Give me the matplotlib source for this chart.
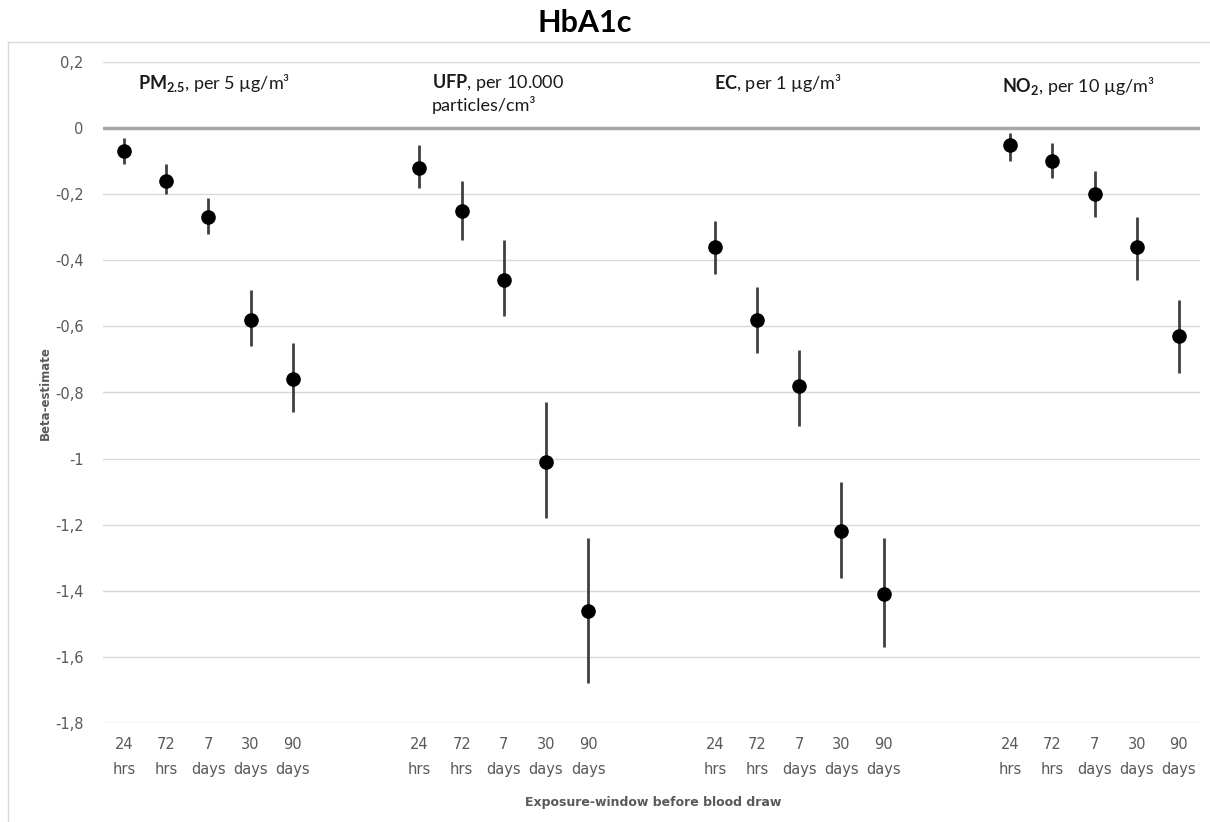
import matplotlib
matplotlib.use("Agg")
import matplotlib.pyplot as plt
from matplotlib.lines import Line2D
from matplotlib.ticker import FuncFormatter

# exposure windows, repeated for each pollutant
windows = ["24\nhrs", "72\nhrs", "7\ndays", "30\ndays", "90\ndays"]

pollutant_labels = [
    r"$\mathbf{PM_{2.5}}$, per 5 µg/m³",
    r"$\mathbf{UFP}$, per 10.000" + "\nparticles/cm³",
    r"$\mathbf{EC}$, per 1 µg/m³",
    r"$\mathbf{NO_2}$, per 10 µg/m³",
]

# beta estimates with lower / upper 95% CI, one list per pollutant
pm25_est = [-0.07, -0.16, -0.27, -0.58, -0.76]
pm25_lo = [-0.11, -0.20, -0.32, -0.66, -0.86]
pm25_hi = [-0.03, -0.11, -0.21, -0.49, -0.65]

ufp_est = [-0.12, -0.25, -0.46, -1.01, -1.46]
ufp_lo = [-0.18, -0.34, -0.57, -1.18, -1.68]
ufp_hi = [-0.05, -0.16, -0.34, -0.83, -1.24]

ec_est = [-0.36, -0.58, -0.78, -1.22, -1.41]
ec_lo = [-0.44, -0.68, -0.90, -1.36, -1.57]
ec_hi = [-0.28, -0.48, -0.67, -1.07, -1.24]

no2_est = [-0.05, -0.10, -0.20, -0.36, -0.63]
no2_lo = [-0.10, -0.15, -0.27, -0.46, -0.74]
no2_hi = [-0.015, -0.045, -0.13, -0.27, -0.52]

groups = [
    (pm25_est, pm25_lo, pm25_hi),
    (ufp_est, ufp_lo, ufp_hi),
    (ec_est, ec_lo, ec_hi),
    (no2_est, no2_lo, no2_hi),
]

plt.rcParams["mathtext.fontset"] = "custom"
plt.rcParams["mathtext.rm"] = "Lato"
plt.rcParams["mathtext.bf"] = "Lato:bold"

grey_txt = "#595959"

fig = plt.figure(figsize=(12.1, 8.22), dpi=100)
ax = fig.add_axes([103 / 1210, 1 - 723 / 822, 1097 / 1210, (723 - 62) / 822])

# 5 windows per pollutant, 2 empty slots between groups
step = 7
xticks, xlabels = [], []
for g, (est, lo, hi) in enumerate(groups):
    xs = [g * step + i for i in range(len(windows))]
    yerr = [[e - l for e, l in zip(est, lo)], [h - e for e, h in zip(est, hi)]]
    ax.errorbar(xs, est, yerr=yerr, fmt="o", color="black", ms=9.5,
                ecolor="#404040", elinewidth=2, capsize=0, zorder=3)
    xticks += xs
    xlabels += windows

label_pos = [(0.33, 0.17), (7.3, 0.17), (13.98, 0.17), (20.8, 0.16)]
for (lx, ly), txt in zip(label_pos, pollutant_labels):
    ax.text(lx, ly, txt, fontsize=13, family="Lato", color="#1a1a1a",
            va="top", ha="left", linespacing=1.2)

ax.set_xlim(-0.5, 25.5)
ax.set_ylim(-1.8, 0.2)
ax.set_yticks([0.2 - 0.2 * i for i in range(11)])
ax.yaxis.set_major_formatter(FuncFormatter(
    lambda v, p: ("%g" % round(v, 1)).replace(".", ",")))
ax.set_xticks(xticks)
ax.set_xticklabels(xlabels, linespacing=1.85)

ax.grid(axis="y", color="#d9d9d9", lw=1)
ax.axhline(0, color="#a6a6a6", lw=2.5, zorder=2)
for s in ax.spines.values():
    s.set_visible(False)
ax.tick_params(length=0, colors=grey_txt, labelsize=10.5)
ax.tick_params(axis="y", pad=14)
ax.tick_params(axis="x", pad=10)

fig.text(585 / 1210, 1 - 23 / 822, "HbA1c", ha="center", va="center",
         fontsize=22, fontweight="bold", family="Lato")
fig.text(45 / 1210, 1 - 393 / 822, "Beta-estimate", rotation=90, ha="center",
         va="center", fontsize=8.5, fontweight="bold", color=grey_txt)
fig.text(653 / 1210, 1 - 802 / 822, "Exposure-window before blood draw",
         ha="center", va="center", fontsize=9, fontweight="bold", color=grey_txt)

# outer chart frame (top and left edges)
fig.add_artist(Line2D([8 / 1210, 1], [1 - 42 / 822] * 2, color="#d9d9d9", lw=1))
fig.add_artist(Line2D([8 / 1210] * 2, [0, 1 - 42 / 822], color="#d9d9d9", lw=1))

fig.savefig("out.png", dpi=100)
